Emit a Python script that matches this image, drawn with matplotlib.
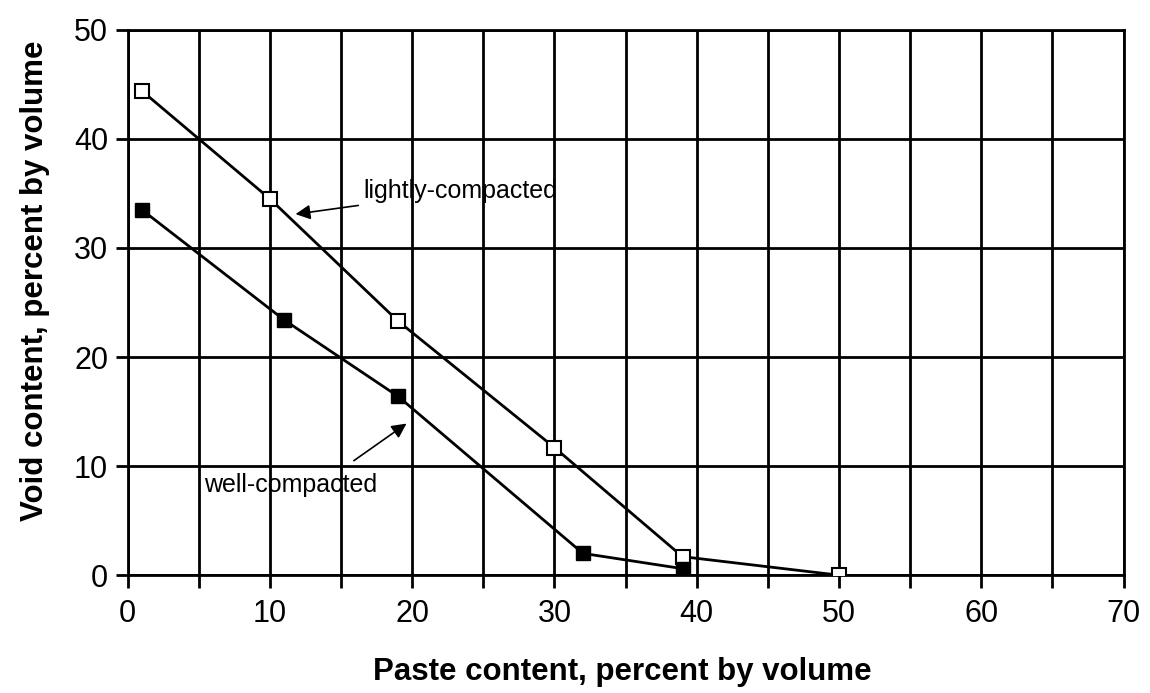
import numpy as np
import matplotlib
matplotlib.use("Agg")
import matplotlib.pyplot as plt

# paste content vs void content
light_x = [1, 10, 19, 30, 39, 50]
light_y = [44.4, 34.5, 23.3, 11.7, 1.7, 0.0]
well_x = [1, 11, 19, 32, 39]
well_y = [33.5, 23.4, 16.4, 2.0, 0.6]

plt.rcParams['font.family'] = ['Liberation Sans', 'DejaVu Sans']

fig = plt.figure(figsize=(11.5, 6.93), dpi=100)
ax = fig.add_axes([0.111, 0.170, 0.866, 0.787])

ax.plot(light_x, light_y, color='black', lw=2, marker='s', ms=10,
        mfc='white', mec='black', mew=1.5, zorder=3)
ax.plot(well_x, well_y, color='black', lw=2, marker='s', ms=10,
        mfc='black', mec='black', zorder=3)

ax.set_xlim(0, 70)
ax.set_ylim(0, 50)
ax.set_xticks(np.arange(0, 71, 10))
ax.set_xticks(np.arange(0, 71, 5), minor=True)
ax.set_yticks(np.arange(0, 51, 10))
ax.grid(True, which='both', axis='x', color='black', lw=2)
ax.grid(True, which='major', axis='y', color='black', lw=2)
ax.tick_params(axis='both', which='both', direction='out', length=9, width=2,
               labelsize=22, pad=8)
ax.tick_params(axis='y', pad=5)
for s in ax.spines.values():
    s.set_linewidth(2)

ax.set_xlabel('Paste content, percent by volume', fontsize=22.5, fontweight='bold')
ax.set_ylabel('Void content, percent by volume', fontsize=22.5, fontweight='bold')
ax.xaxis.set_label_coords(0.497, -0.150)
ax.yaxis.set_label_coords(-0.078, 0.54)

ax.annotate('lightly-compacted', xy=(11.8, 33.1), xytext=(16.6, 35.2),
            fontsize=18, va='center', ha='left',
            arrowprops=dict(arrowstyle='-|>', color='black', lw=1.2,
                            mutation_scale=22, shrinkA=2, shrinkB=0))
ax.annotate('', xy=(19.6, 13.9), xytext=(15.9, 10.5),
            arrowprops=dict(arrowstyle='-|>', color='black', lw=1.2,
                            mutation_scale=22, shrinkA=0, shrinkB=0))
ax.text(5.4, 8.3, 'well-compacted', fontsize=18, va='center', ha='left')

fig.savefig('out.png', dpi=100)
